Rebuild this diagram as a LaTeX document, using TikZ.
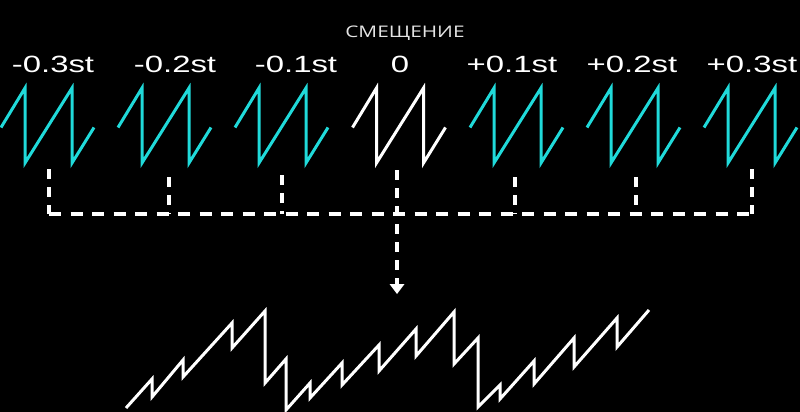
\documentclass[tikz,border=0pt]{standalone}
\usepackage{fontspec}
\newfontfamily\labfont[FakeStretch=1.4]{Liberation Sans}
\newfontfamily\titfont[FakeStretch=1.3]{Open Sans}
\usetikzlibrary{arrows.meta}
\definecolor{cyanw}{RGB}{32,218,218}
\definecolor{titgray}{RGB}{228,228,228}
\begin{document}
\begin{tikzpicture}[x=1pt,y=-1pt,
  waveline/.style={line width=3pt,line join=miter},
  saw/.pic={\draw[waveline] (0,0) -- (24,-39.5) -- (24,35.5) -- (71,-39.5) -- (71,35.5) -- (93,0);},
  lab/.style={text=white,anchor=base,inner sep=0pt,font=\labfont\fontsize{23.5}{28}\selectfont},
  tit/.style={text=titgray,anchor=base,inner sep=0pt,font=\titfont\fontsize{16}{19}\selectfont},
  dashconn/.style={draw=white,line width=3.2pt,dash pattern=on 10pt off 8pt},
  busline/.style={draw=white,line width=3.2pt,dash pattern=on 12pt off 9.5pt}]
\fill[black] (0,0) rectangle (800,412);
\useasboundingbox (0,0) rectangle (800,412);

% title
\node[tit] (title) at (405,37.5) {СМЕЩЕНИЕ};

% labels
\node[lab] (l1) at (53,72) {-0.3st};
\node[lab] (l2) at (175,72) {-0.2st};
\node[lab] (l3) at (296,72) {-0.1st};
\node[lab] (l4) at (400,72) {0};
\node[lab] (l5) at (512,72) {+0.1st};
\node[lab] (l6) at (632,72) {+0.2st};
\node[lab] (l7) at (752,72) {+0.3st};

% sawtooth waves
\pic[color=cyanw] (w1) at (1,127.5) {saw};
\pic[color=cyanw] (w2) at (118,127.5) {saw};
\pic[color=cyanw] (w3) at (235,127.5) {saw};
\pic[color=white] (w4) at (352.5,127.5) {saw};
\pic[color=cyanw] (w5) at (470,127.5) {saw};
\pic[color=cyanw] (w6) at (587,127.5) {saw};
\pic[color=cyanw] (w7) at (704,127.5) {saw};

% connector start points below each wave
\coordinate (d1) at (49,169);
\coordinate (d2) at (169,177);
\coordinate (d3) at (282,175);
\coordinate (d4) at (397,170);
\coordinate (d5) at (515,177);
\coordinate (d6) at (636,177);
\coordinate (d7) at (752,169);
\coordinate (bus) at (0,214);
\coordinate (res) at (397,294);

% connectors
\draw[busline] (d1 |- bus) -- (d7 |- bus);
\foreach \d in {d1,d2,d3,d5,d6,d7} {
  \draw[dashconn] (\d) -- (\d |- bus);
}
\draw[dashconn,-{Triangle[width=15pt,length=10pt,line width=0pt]}] (d4) -- (res);

% summed result waveform
\draw[white,waveline] (126,408) -- (152,379) -- (152,397) -- (183,360) -- (183,377) -- (232,323) -- (232,348) -- (265,311) -- (265,383) -- (286,359) -- (286,410) -- (310,383) -- (310,398) -- (342,363) -- (342,385) -- (379,345) -- (379,371) -- (416,329) -- (416,356) -- (454,312) -- (454,364) -- (478,338) -- (478,407) -- (500,385) -- (500,399) -- (534,361) -- (534,384) -- (574,338) -- (574,367) -- (617,318) -- (617,347) -- (649,310);
\end{tikzpicture}
\end{document}
